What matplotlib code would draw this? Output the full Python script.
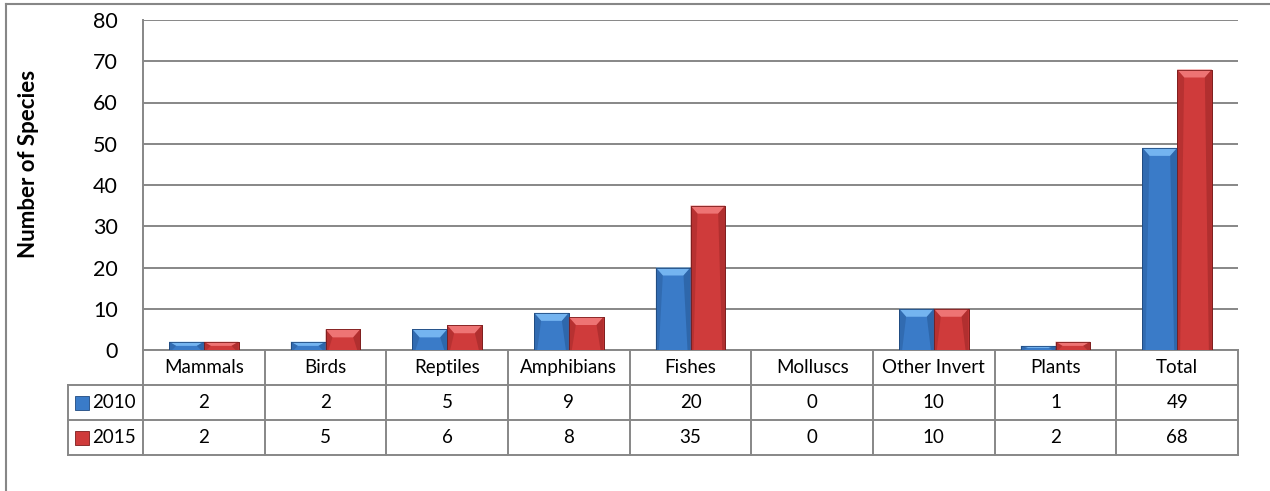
import numpy as np
import matplotlib
matplotlib.use("Agg")
from matplotlib import pyplot as plt
from matplotlib import transforms
from matplotlib.patches import Polygon
from matplotlib.lines import Line2D

plt.rcParams["font.family"] = ["Lato", "DejaVu Sans"]

# data
categories = ["Mammals", "Birds", "Reptiles", "Amphibians", "Fishes",
              "Molluscs", "Other Invert", "Plants", "Total"]
series_names = ["2010", "2015"]
values_2010 = [2, 2, 5, 9, 20, 0, 10, 1, 49]
values_2015 = [2, 5, 6, 8, 35, 0, 10, 2, 68]
y_ticks = [0, 10, 20, 30, 40, 50, 60, 70, 80]

W, H = 1270, 491
fig = plt.figure(figsize=(W / 100, H / 100), dpi=100)

# plot area in pixels: left 143, right 1238, top 20, bottom 350
ax = fig.add_axes([143 / W, (H - 350) / H, (1238 - 143) / W, (350 - 20) / H])

grid_col = "#878787"
styles = {
    "2010": dict(face="#3a7bc8", top="#74b4f0", side="#2a5f9f", edge="#1f4a80"),
    "2015": dict(face="#cf3b3b", top="#ee7474", side="#a52a2a", edge="#7d1d1d"),
}

x = np.arange(len(categories))
bw = 0.285
px_x = 1 / 121.7      # data units per pixel in x
px_y = 80 / 330       # data units per pixel in y


def draw_bars(xpos, vals, st):
    bars = ax.bar(xpos, vals, bw, color=st["face"], edgecolor=st["edge"],
                  linewidth=0.6, zorder=3)
    for b in bars:
        x0, w, h = b.get_x(), b.get_width(), b.get_height()
        if h <= 0:
            continue
        x1 = x0 + w
        dy = min(8 * px_y, h * 0.5)
        dx = min(7 * px_x, w * 0.3)
        sx = 3 * px_x
        ax.add_patch(Polygon([(x0, h), (x1, h), (x1 - dx, h - dy), (x0 + dx, h - dy)],
                             closed=True, facecolor=st["top"], edgecolor="none", zorder=4))
        ax.add_patch(Polygon([(x0, h), (x0 + dx, h - dy), (x0 + sx, 0), (x0, 0)],
                             closed=True, facecolor=st["side"], edgecolor="none",
                             alpha=0.55, zorder=4))
        ax.add_patch(Polygon([(x1, h), (x1 - dx, h - dy), (x1 - sx, 0), (x1, 0)],
                             closed=True, facecolor=st["side"], edgecolor="none",
                             alpha=0.7, zorder=4))
        ax.add_patch(Polygon([(x0, h), (x1, h), (x1, 0), (x0, 0)], closed=True,
                             facecolor="none", edgecolor=st["edge"], linewidth=0.6, zorder=5))


draw_bars(x - bw / 2, values_2010, styles["2010"])
draw_bars(x + bw / 2, values_2015, styles["2015"])

ax.set_xlim(-0.5, len(categories) - 0.5)
ax.set_ylim(0, 80)
ax.set_yticks(y_ticks)
ax.set_yticklabels([str(t) for t in y_ticks], fontsize=15.5)
ax.tick_params(axis="y", length=0, pad=18)
ax.set_xticks([])
ax.yaxis.grid(True, color=grid_col, linewidth=1.4)
ax.set_axisbelow(True)
for s in ["top", "right", "bottom"]:
    ax.spines[s].set_visible(False)
ax.spines["left"].set_color(grid_col)
ax.spines["left"].set_linewidth(1.4)

fig.text(29 / W, 1 - 164 / H, "Number of Species", rotation=90, fontsize=16,
         fontweight="bold", ha="center", va="center")

# data table under the plot
trans = transforms.blended_transform_factory(ax.transData, ax.transAxes)
rh = 35 / 330
xl = -0.5 - 75 * px_x
xr = len(categories) - 0.5
lkw = dict(color=grid_col, linewidth=1.4, transform=trans, clip_on=False)
ax.add_line(Line2D([-0.5, xr], [0, 0], **lkw))
for k in range(1, 4):
    ax.add_line(Line2D([xl, xr], [-k * rh, -k * rh], **lkw))
for i in range(len(categories) + 1):
    ax.add_line(Line2D([i - 0.5, i - 0.5], [0, -3 * rh], **lkw))
ax.add_line(Line2D([xl, xl], [-rh, -3 * rh], **lkw))

fs = 13.5
for i, cat in enumerate(categories):
    ax.text(i, -0.5 * rh, cat, transform=trans, ha="center", va="center", fontsize=fs)
    ax.text(i, -1.5 * rh, str(values_2010[i]), transform=trans, ha="center",
            va="center", fontsize=fs)
    ax.text(i, -2.5 * rh, str(values_2015[i]), transform=trans, ha="center",
            va="center", fontsize=fs)

for r, name in enumerate(series_names):
    yy = -(1.5 + r) * rh
    st = styles[name]
    ax.plot([-0.5 - 61 * px_x], [yy], marker="s", markersize=9.5, color=st["face"],
            markeredgecolor=st["edge"], markeredgewidth=0.6, transform=trans, clip_on=False)
    ax.text(-0.5 - 51 * px_x, yy, name, transform=trans, ha="left", va="center",
            fontsize=fs)

# outer chart frame (only left and top edges visible)
fig.add_artist(Line2D([6 / W, 6 / W], [0, 1 - 4 / H], color=grid_col, linewidth=1.5,
                      transform=fig.transFigure))
fig.add_artist(Line2D([6 / W, 1], [1 - 4 / H, 1 - 4 / H], color=grid_col, linewidth=1.5,
                      transform=fig.transFigure))

fig.savefig("out.png", dpi=100, facecolor="white")
